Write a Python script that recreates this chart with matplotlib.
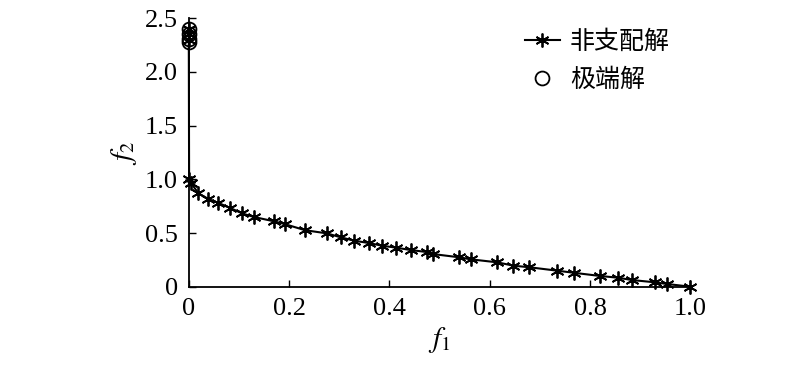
import matplotlib
matplotlib.use("Agg")
import matplotlib.pyplot as plt

plt.rcParams['font.family'] = ['Liberation Serif', 'Noto Sans CJK SC']
plt.rcParams['mathtext.fontset'] = 'stix'

# Non-dominated solutions (f1, f2)
nd_f1 = [0.0, 0.0, 0.0, 0.0006, 0.005, 0.019, 0.039, 0.059, 0.082, 0.107, 0.129,
         0.169, 0.192, 0.232, 0.275, 0.303, 0.330, 0.359, 0.385, 0.414, 0.442,
         0.474, 0.487, 0.539, 0.562, 0.615, 0.647, 0.679, 0.735, 0.767, 0.820,
         0.855, 0.884, 0.929, 0.954, 1.0]
nd_f2 = [2.40, 2.35, 2.30, 1.00, 0.963, 0.870, 0.817, 0.780, 0.734, 0.682, 0.650,
         0.610, 0.582, 0.526, 0.497, 0.460, 0.428, 0.407, 0.382, 0.363, 0.342,
         0.323, 0.304, 0.274, 0.255, 0.227, 0.196, 0.181, 0.149, 0.130, 0.100,
         0.084, 0.062, 0.041, 0.025, 0.0]

# Extreme solutions
ext_f1 = [0.0, 0.0, 0.0, 0.0]
ext_f2 = [2.40, 2.35, 2.31, 2.28]

xticks = [0, 0.2, 0.4, 0.6, 0.8, 1.0]
xticklabels = ['0', '0.2', '0.4', '0.6', '0.8', '1.0']
yticks = [0, 0.5, 1.0, 1.5, 2.0, 2.5]
yticklabels = ['0', '0.5', '1.0', '1.5', '2.0', '2.5']
legend_labels = ['非支配解', '极端解']

fig = plt.figure(figsize=(8, 3.65), dpi=100)
ax = fig.add_axes([0.236, 0.2145, 0.627, 0.7355])

ax.plot(nd_f1, nd_f2, color='black', lw=1.5, marker=(6, 2, 0), ms=10,
        mew=1.3, label=legend_labels[0], clip_on=False, zorder=3)
ax.plot(ext_f1, ext_f2, ls='none', marker='o', ms=10, mfc='none', mec='black',
        mew=1.3, label=legend_labels[1], clip_on=False, zorder=4)

ax.set_xlim(0, 1.0)
ax.set_ylim(0, 2.5)
ax.set_xticks(xticks)
ax.set_xticklabels(xticklabels)
ax.set_yticks(yticks)
ax.set_yticklabels(yticklabels)
ax.tick_params(direction='in', length=5, width=1, labelsize=19, pad=8, colors='black')
for s in ['top', 'right']:
    ax.spines[s].set_visible(False)
for s in ['left', 'bottom']:
    ax.spines[s].set_linewidth(1.3)

ax.set_xlabel('$f_1$', fontsize=21, labelpad=4)
ax.set_ylabel('$f_2$', fontsize=21, labelpad=4)

leg = ax.legend(loc='upper right', bbox_to_anchor=(1.004, 1.045), frameon=False,
                prop={'family': ['Noto Sans CJK SC'], 'size': 18},
                handlelength=1.4, handletextpad=0.4, labelspacing=0.5)

fig.savefig('out.png', dpi=100)
